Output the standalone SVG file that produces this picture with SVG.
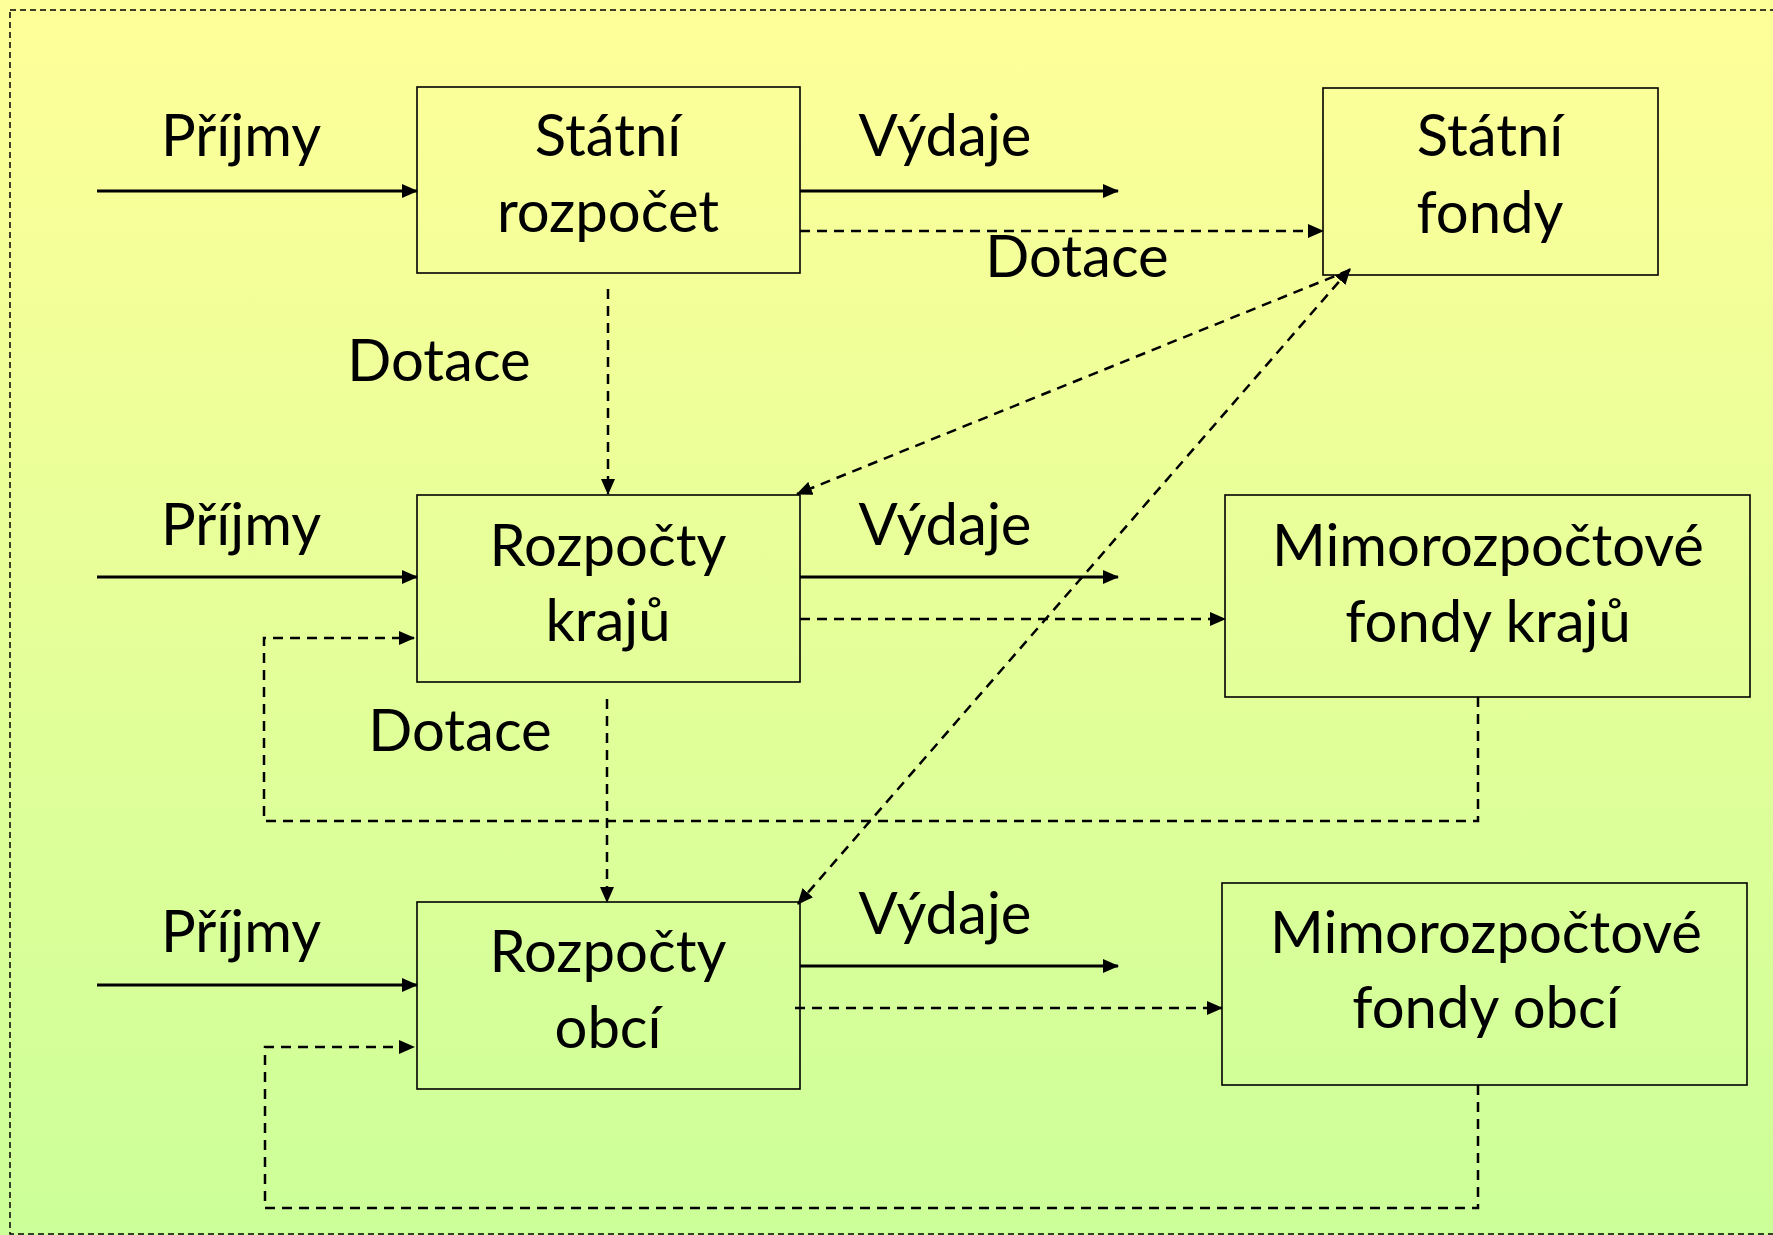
<svg xmlns="http://www.w3.org/2000/svg" width="1773" height="1235" viewBox="0 0 1773 1235">
<defs>
<linearGradient id="bg" x1="0" y1="0" x2="0" y2="1">
<stop offset="0" stop-color="#FFFF99"/>
<stop offset="1" stop-color="#CCFF99"/>
</linearGradient>
<marker id="ah" markerUnits="userSpaceOnUse" markerWidth="16" markerHeight="14" refX="15" refY="7" orient="auto-start-reverse" viewBox="0 0 16 14">
<path d="M0,0 L16,7 L0,14 Z" fill="#000"/>
</marker>
<style>
.box{fill:none;stroke:#000;stroke-width:1.6}
.t{font-family:Lato,"Liberation Sans",sans-serif;font-size:58px;fill:#000;text-anchor:middle}
.solid{fill:none;stroke:#000;stroke-width:3}
.dash{fill:none;stroke:#000;stroke-width:2.5;stroke-dasharray:10,7}
</style>
</defs>
<rect x="0" y="0" width="1773" height="1235" fill="url(#bg)"/>
<rect x="10" y="10" width="1770" height="1224" fill="none" stroke="#000" stroke-width="1.5" stroke-dasharray="6,4"/>

<g id="statni-rozpocet">
<rect class="box" x="417" y="87" width="383" height="186"/>
<text class="t" x="608" y="156">Státní</text>
<text class="t" x="608" y="232">rozpočet</text>
</g>
<g id="statni-fondy">
<rect class="box" x="1323" y="88" width="335" height="187"/>
<text class="t" x="1490" y="156">Státní</text>
<text class="t" x="1490" y="233">fondy</text>
</g>
<g id="rozpocty-kraju">
<rect class="box" x="417" y="495" width="383" height="187"/>
<text class="t" x="608" y="566">Rozpočty</text>
<text class="t" x="608" y="641">krajů</text>
</g>
<g id="mimo-kraju">
<rect class="box" x="1225" y="495" width="525" height="202"/>
<text class="t" x="1488" y="566">Mimorozpočtové</text>
<text class="t" x="1488" y="642">fondy krajů</text>
</g>
<g id="rozpocty-obci">
<rect class="box" x="417" y="902" width="383" height="187"/>
<text class="t" x="608" y="972">Rozpočty</text>
<text class="t" x="608" y="1048">obcí</text>
</g>
<g id="mimo-obci">
<rect class="box" x="1222" y="883" width="525" height="202"/>
<text class="t" x="1486" y="953">Mimorozpočtové</text>
<text class="t" x="1486" y="1028">fondy obcí</text>
</g>

<g id="labels">
<text class="t" x="241" y="156">Příjmy</text>
<text class="t" x="945" y="156">Výdaje</text>
<text class="t" x="1077" y="277">Dotace</text>
<text class="t" x="439" y="381">Dotace</text>
<text class="t" x="241" y="545">Příjmy</text>
<text class="t" x="945" y="545">Výdaje</text>
<text class="t" x="460" y="751">Dotace</text>
<text class="t" x="241" y="952">Příjmy</text>
<text class="t" x="945" y="934">Výdaje</text>
</g>

<g id="connectors">
<line class="solid" x1="97" y1="191" x2="417" y2="191" marker-end="url(#ah)"/>
<line class="solid" x1="800" y1="191" x2="1118" y2="191" marker-end="url(#ah)"/>
<line class="dash" x1="800" y1="231" x2="1323" y2="231" marker-end="url(#ah)"/>
<line class="dash" x1="608" y1="289" x2="608" y2="494" marker-end="url(#ah)"/>
<line class="dash" x1="1350" y1="270" x2="797" y2="494" marker-end="url(#ah)"/>
<line class="dash" x1="1350" y1="269" x2="798" y2="904" marker-start="url(#ah)" marker-end="url(#ah)"/>

<line class="solid" x1="97" y1="577" x2="417" y2="577" marker-end="url(#ah)"/>
<line class="solid" x1="800" y1="577" x2="1118" y2="577" marker-end="url(#ah)"/>
<line class="dash" x1="800" y1="619" x2="1225" y2="619" marker-end="url(#ah)"/>
<polyline class="dash" points="1478,697 1478,821 264,821 264,638 414,638" marker-end="url(#ah)"/>
<line class="dash" x1="607" y1="699" x2="607" y2="902" marker-end="url(#ah)"/>

<line class="solid" x1="97" y1="985" x2="417" y2="985" marker-end="url(#ah)"/>
<line class="solid" x1="800" y1="966" x2="1118" y2="966" marker-end="url(#ah)"/>
<line class="dash" x1="795" y1="1008" x2="1222" y2="1008" marker-end="url(#ah)"/>
<polyline class="dash" points="1478,1085 1478,1208 265,1208 265,1047 414,1047" marker-end="url(#ah)"/>
</g>
</svg>
